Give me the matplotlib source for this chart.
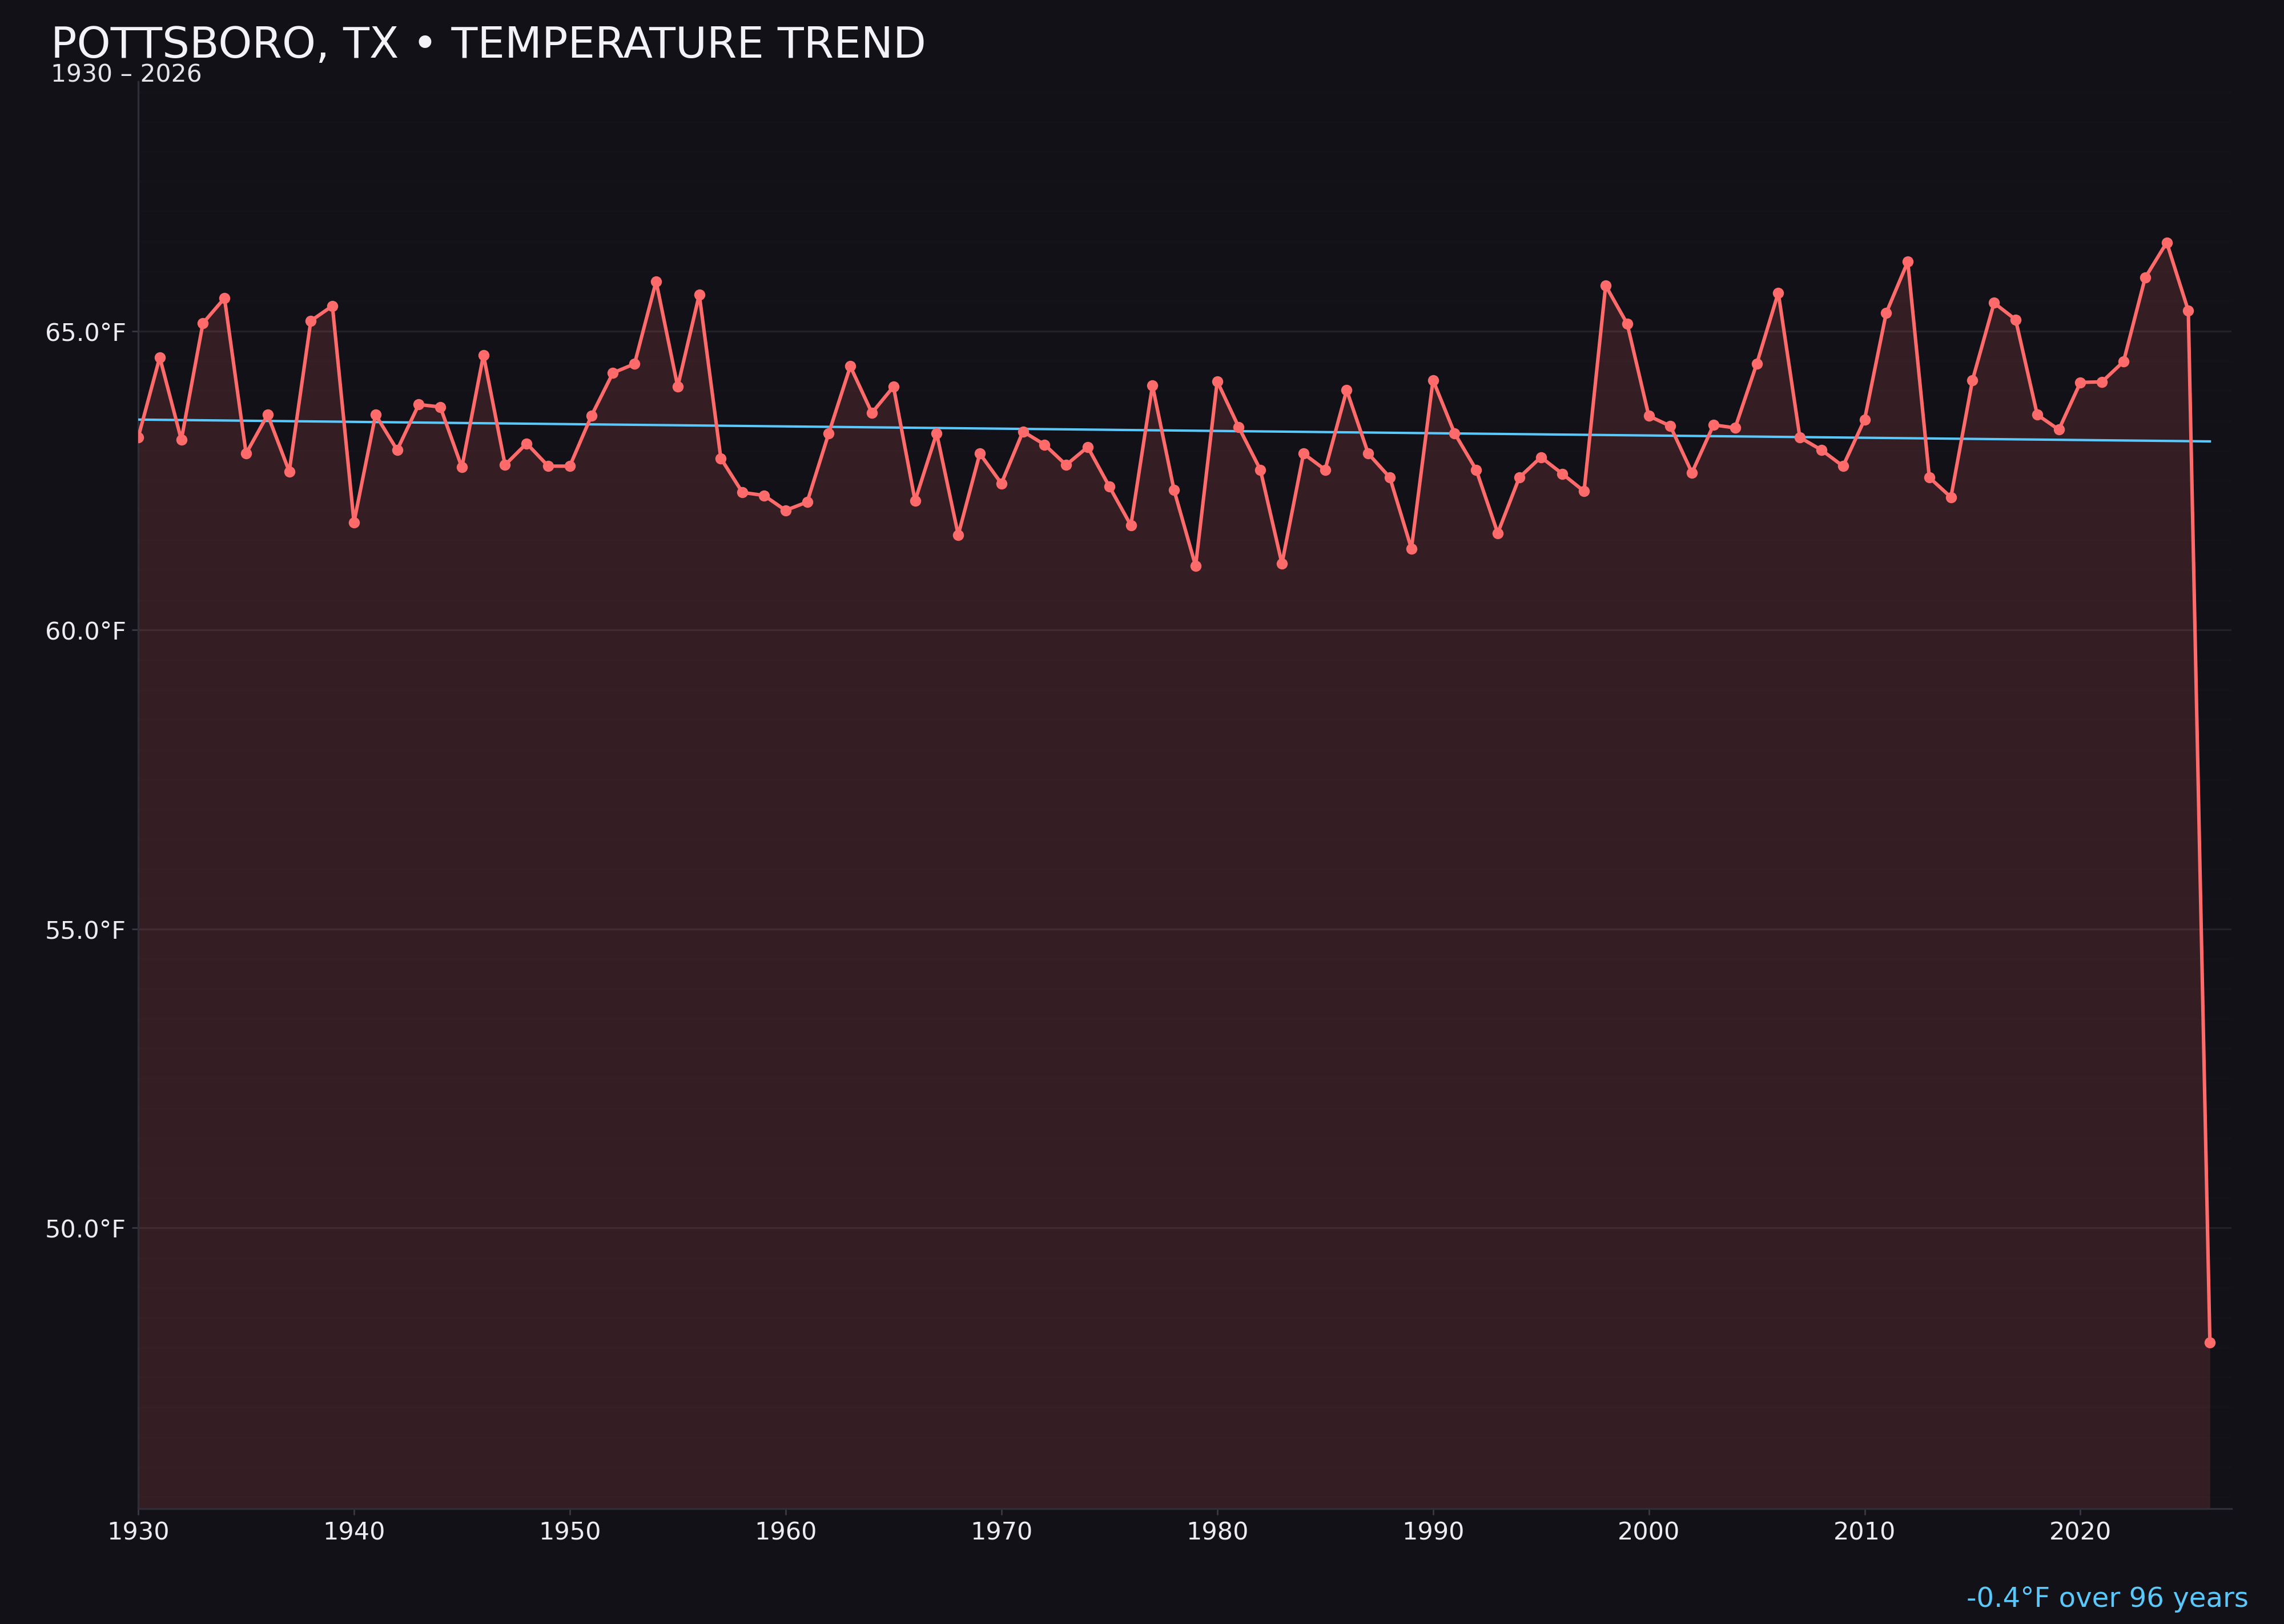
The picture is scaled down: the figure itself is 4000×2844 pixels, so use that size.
import matplotlib.pyplot as plt
import numpy as np

years = np.arange(1930, 2027)
temps = [63.22, 64.56, 63.18, 65.13, 65.55, 62.95, 63.60, 62.65, 65.17, 65.42,
         61.80, 63.60, 63.01, 63.77, 63.73, 62.72, 64.60, 62.76, 63.12, 62.74,
         62.74, 63.58, 64.30, 64.45, 65.83, 64.07, 65.61, 62.87, 62.30, 62.25,
         62.00, 62.14, 63.29, 64.41, 63.63, 64.07, 62.16, 63.29, 61.59, 62.95,
         62.45, 63.32, 63.10, 62.76, 63.06, 62.40, 61.75, 64.09, 62.34, 61.07,
         64.16, 63.39, 62.68, 61.11, 62.95, 62.68, 64.01, 62.95, 62.55, 61.36,
         64.18, 63.29, 62.68, 61.62, 62.55, 62.89, 62.61, 62.32, 65.76, 65.12,
         63.58, 63.41, 62.63, 63.43, 63.38, 64.45, 65.64, 63.22, 63.01, 62.74,
         63.52, 65.30, 66.16, 62.55, 62.22, 64.18, 65.47, 65.19, 63.60, 63.35,
         64.14, 64.15, 64.49, 65.89, 66.48, 65.34, 48.08]
xticks = np.arange(1930, 2021, 10)
yticks = [50, 55, 60, 65]

title = "POTTSBORO, TX \u2022 TEMPERATURE TREND"
subtitle = "1930 \u2013 2026"

bg = "#121117"
line_c = "#ff6b6b"
trend_c = "#5ac8fa"

fig = plt.figure(figsize=(20, 14.22), dpi=200, facecolor=bg)
ax = fig.add_axes([0.0605, 0.0709, 0.9165, 0.8788])
ax.set_facecolor(bg)

ymin, ymax = 45.3, 69.17
ax.fill_between(years, temps, ymin, color=line_c, alpha=0.15, lw=0, zorder=2)
ax.plot(years, temps, color=line_c, lw=2.2, marker="o", ms=6, zorder=4)

# linear trend
k, b = np.polyfit(years, temps, 1)
ax.plot(years, k * years + b, color=trend_c, lw=1.5, zorder=3)

ax.set_xlim(1930, 2027)
ax.set_ylim(ymin, ymax)
ax.set_xticks(xticks)
ax.set_yticks(yticks)
ax.set_yticks(np.arange(45.5, 69.1, 0.5), minor=True)
ax.set_yticklabels(["%.1f\u00b0F" % v for v in yticks])
ax.grid(axis="y", which="major", color="white", alpha=0.07, lw=1.2, zorder=1)
ax.grid(axis="y", which="minor", color="white", alpha=0.012, lw=1.0, zorder=1)
ax.tick_params(which="major", colors="#3a3a45", labelcolor="#ececf2",
               labelsize=15.5, length=4, width=1)
ax.tick_params(which="minor", length=0)
for s in ["top", "right"]:
    ax.spines[s].set_visible(False)
for s in ["left", "bottom"]:
    ax.spines[s].set_color("#2e2e38")
    ax.spines[s].set_linewidth(1.2)

fig.text(0.0222, 0.9645, title, color="#f2f2f7", fontsize=27.1, va="baseline")
fig.text(0.0222, 0.9494, subtitle, color="#e4e4ea", fontsize=15.3, va="baseline")
fig.text(0.9845, 0.0106, "%.1f\u00b0F over %d years" % (k * (years[-1] - years[0]), years[-1] - years[0]),
         color=trend_c, fontsize=17.4, ha="right", va="baseline")

plt.savefig("out.png", dpi=200, facecolor=bg)
